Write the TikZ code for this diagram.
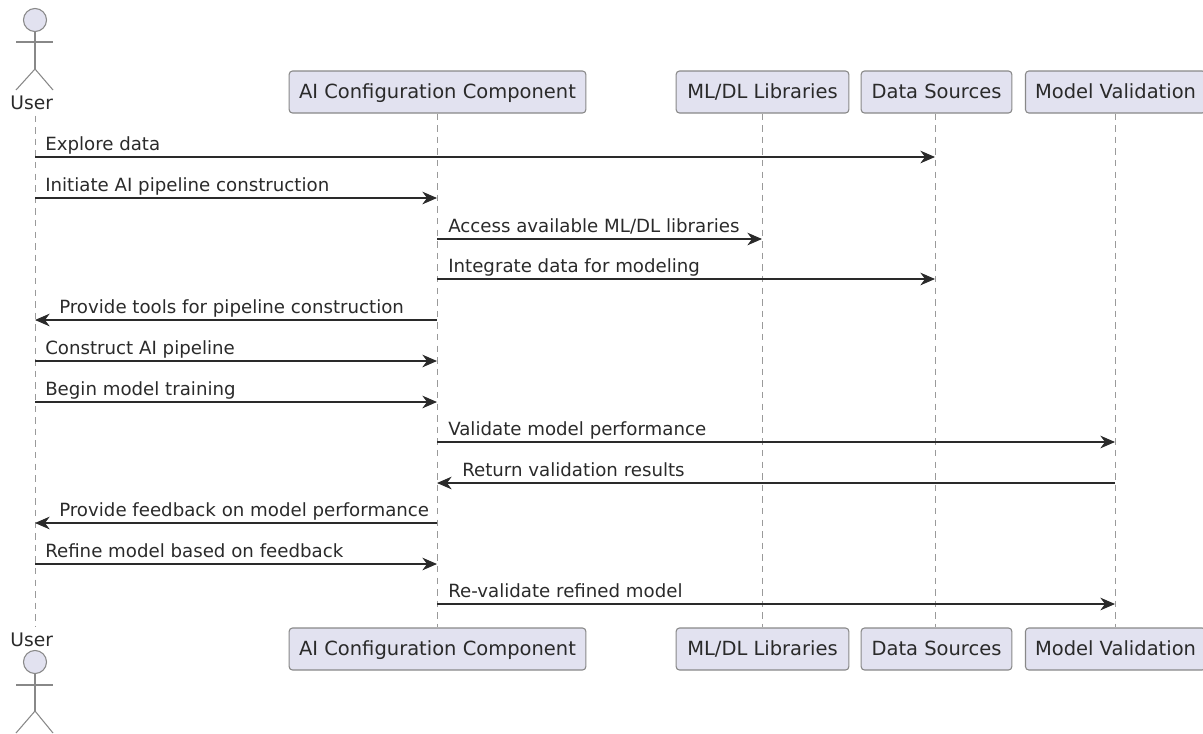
\documentclass[tikz,border=0pt]{standalone}
\usepackage{fontspec}
\setmainfont{DejaVu Sans}
\usepackage{tikz}
\usetikzlibrary{arrows.meta, positioning, calc}

\definecolor{boxfill}{HTML}{E2E2F0}
\definecolor{boxline}{HTML}{888888}
\definecolor{inktext}{HTML}{2A2A2A}

\tikzset{
    partbox/.style={draw=boxline, fill=boxfill, rounded corners=2.5pt, line width=0.8pt,
        minimum height=31.5pt, inner xsep=0pt, inner ysep=0pt, text height=12pt, text depth=2.6pt,
        text=inktext, font=\fontsize{14.62}{16}\selectfont},
    actorlabel/.style={inner xsep=0pt, inner ysep=4pt, text=inktext, font=\fontsize{14}{16}\selectfont},
    actorline/.style={draw=boxline, line width=0.8pt},
    lifeline/.style={draw=boxline!85, line width=0.7pt, dash pattern=on 4.9pt off 3.8pt},
    msglabel/.style={anchor=south west, inner xsep=0pt, inner ysep=0pt, text height=10pt, text depth=5pt,
        text=inktext, font=\fontsize{13.64}{16}\selectfont},
    msg/.style={draw=inktext, line width=0.8pt, -{Stealth[length=11pt, width=9.5pt, inset=3.5pt]}}
}

\begin{document}
\begin{tikzpicture}[x=0.75pt, y=-0.75pt]
\useasboundingbox (0,0) rectangle (1203,733);

% Top row of participants
\node[circle, draw=boxline, fill=boxfill, line width=0.8pt, minimum size=17.3pt, inner sep=0pt] (userhead) at (35,20) {};
\node[actorlabel] (usertop) at (31.7,103) {User};
\node[partbox, minimum width=222.5pt] (aitop) at (437.5,92) {AI Configuration Component};
\node[partbox, minimum width=129.5pt] (mltop) at (762.5,92) {ML/DL Libraries};
\node[partbox, minimum width=113pt] (datatop) at (936.5,92) {Data Sources};
\node[partbox, minimum width=135pt] (valtop) at (1115.5,92) {Model Validation};

% Bottom row of participants
\node[actorlabel] (userbot) at (31.7,640) {User};
\node[circle, draw=boxline, fill=boxfill, line width=0.8pt, minimum size=17.3pt, inner sep=0pt] (userheadb) at (35,662) {};
\node[partbox, minimum width=222.5pt] (aibot) at (437.5,649) {AI Configuration Component};
\node[partbox, minimum width=129.5pt] (mlbot) at (762.5,649) {ML/DL Libraries};
\node[partbox, minimum width=113pt] (databot) at (936.5,649) {Data Sources};
\node[partbox, minimum width=135pt] (valbot) at (1115.5,649) {Model Validation};

% Stick figures
\coordinate (hipt) at (35,69);
\coordinate (armtl) at (16,42);
\coordinate (armtr) at (53,42);
\coordinate (legtl) at (16,90);
\coordinate (legtr) at (53,90);
\draw[actorline] (userhead) -- (hipt);
\draw[actorline] (armtl) -- (armtr);
\draw[actorline] (legtl) -- (hipt) -- (legtr);

\coordinate (hipb) at (35,711);
\coordinate (armbl) at (16,685);
\coordinate (armbr) at (53,685);
\coordinate (legbl) at (16,733);
\coordinate (legbr) at (53,733);
\draw[actorline] (userheadb) -- (hipb);
\draw[actorline] (armbl) -- (armbr);
\draw[actorline] (legbl) -- (hipb) -- (legbr);

% Lifelines
\coordinate (userx) at (35,0);
\coordinate (aix) at (437,0);
\coordinate (mlx) at (762,0);
\coordinate (datax) at (935,0);
\coordinate (valx) at (1115,0);
\draw[lifeline] (userx |- usertop.south) -- (userx |- userbot.north);
\draw[lifeline] (aix |- aitop.south) -- (aix |- aibot.north);
\draw[lifeline] (mlx |- mltop.south) -- (mlx |- mlbot.north);
\draw[lifeline] (datax |- datatop.south) -- (datax |- databot.north);
\draw[lifeline] (valx |- valtop.south) -- (valx |- valbot.north);

% Messages
\node[msglabel] (explore) at (45,157) {Explore data};
\draw[msg] (userx |- explore.south) -- (datax |- explore.south);
\node[msglabel] (initiate) at (45,198) {Initiate AI pipeline construction};
\draw[msg] (userx |- initiate.south) -- (aix |- initiate.south);
\node[msglabel] (access) at (448,239) {Access available ML/DL libraries};
\draw[msg] (aix |- access.south) -- (mlx |- access.south);
\node[msglabel] (integrate) at (448,279) {Integrate data for modeling};
\draw[msg] (aix |- integrate.south) -- (datax |- integrate.south);
\node[msglabel] (tools) at (59,320) {Provide tools for pipeline construction};
\draw[msg] (aix |- tools.south) -- (userx |- tools.south);
\node[msglabel] (construct) at (45,361) {Construct AI pipeline};
\draw[msg] (userx |- construct.south) -- (aix |- construct.south);
\node[msglabel] (training) at (45,402) {Begin model training};
\draw[msg] (userx |- training.south) -- (aix |- training.south);
\node[msglabel] (validate) at (448,442) {Validate model performance};
\draw[msg] (aix |- validate.south) -- (valx |- validate.south);
\node[msglabel] (results) at (462,483) {Return validation results};
\draw[msg] (valx |- results.south) -- (aix |- results.south);
\node[msglabel] (feedback) at (59,523) {Provide feedback on model performance};
\draw[msg] (aix |- feedback.south) -- (userx |- feedback.south);
\node[msglabel] (refine) at (45,564) {Refine model based on feedback};
\draw[msg] (userx |- refine.south) -- (aix |- refine.south);
\node[msglabel] (revalidate) at (448,604) {Re-validate refined model};
\draw[msg] (aix |- revalidate.south) -- (valx |- revalidate.south);
\end{tikzpicture}
\end{document}
